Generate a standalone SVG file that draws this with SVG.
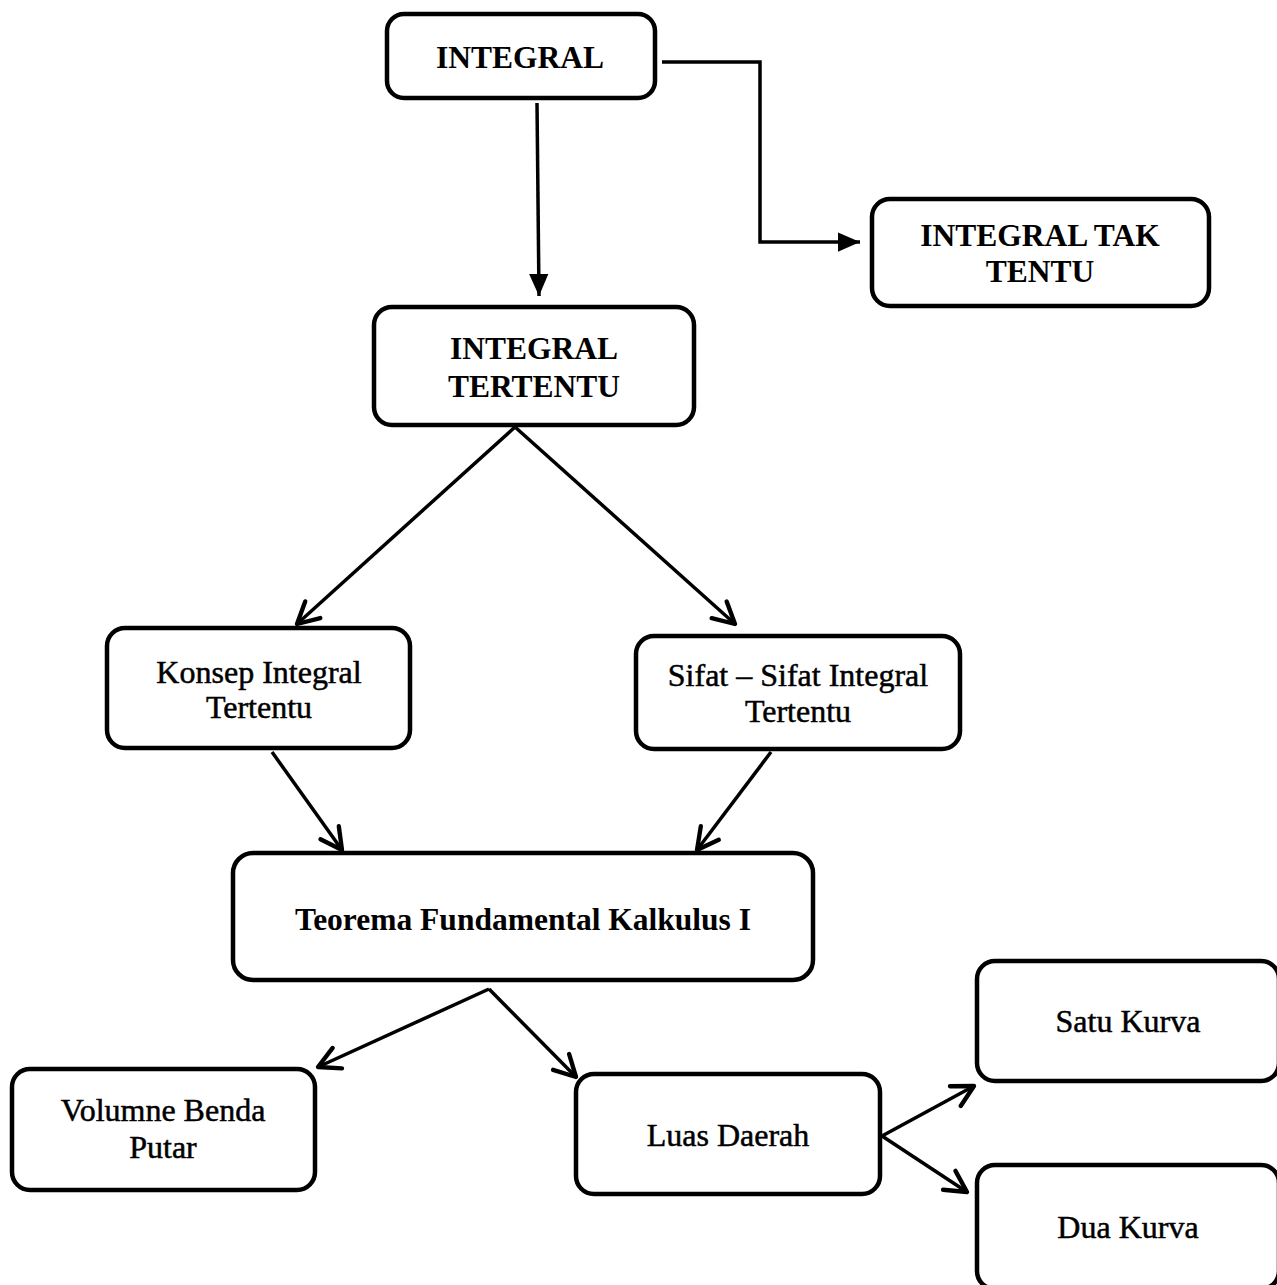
<svg xmlns="http://www.w3.org/2000/svg" width="1277" height="1285" viewBox="0 0 1277 1285">
<style>
.box{fill:#fff;stroke:#000;stroke-width:4.5}
.b{font-family:"Liberation Serif","Times New Roman",serif;font-weight:bold;font-size:31.5px;fill:#000;text-anchor:middle}
.r{font-family:"Liberation Serif","Times New Roman",serif;font-size:32px;fill:#000;stroke:#000;stroke-width:0.5;text-anchor:middle}
.c{fill:none;stroke:#000;stroke-width:3.5}
</style>
<defs>
<marker id="tri" markerUnits="userSpaceOnUse" markerWidth="22" markerHeight="22" viewBox="0 0 16 14" refX="16" refY="7" orient="auto">
<path d="M0,0 L16,7 L0,14 Z" fill="#000"/>
</marker>
<marker id="vee" markerUnits="userSpaceOnUse" markerWidth="30" markerHeight="30" viewBox="-20 -12 24 24" refX="0" refY="0" orient="auto">
<path d="M-17,-9 L0,0 L-17,9" fill="none" stroke="#000" stroke-width="3.5" stroke-linecap="round" stroke-linejoin="round"/>
</marker>
</defs>
<rect width="1277" height="1285" fill="#fff"/>
<g id="connectors">
<line class="c" x1="537" y1="103" x2="539" y2="296" marker-end="url(#tri)"/>
<polyline class="c" points="662,62 760,62 760,242 860,242" marker-end="url(#tri)"/>
<line class="c" x1="515" y1="427" x2="297" y2="624" marker-end="url(#vee)"/>
<line class="c" x1="515" y1="427" x2="735" y2="624" marker-end="url(#vee)"/>
<line class="c" x1="272" y1="752" x2="342" y2="850" marker-end="url(#vee)"/>
<line class="c" x1="771" y1="752" x2="697" y2="850" marker-end="url(#vee)"/>
<line class="c" x1="489" y1="989" x2="318" y2="1067" marker-end="url(#vee)"/>
<line class="c" x1="489" y1="989" x2="576" y2="1077" marker-end="url(#vee)"/>
<line class="c" x1="882" y1="1136" x2="974" y2="1086" marker-end="url(#vee)"/>
<line class="c" x1="882" y1="1136" x2="967" y2="1192" marker-end="url(#vee)"/>
</g>
<g id="n-integral"><rect class="box" x="387" y="14" width="268" height="84" rx="17"/><text class="b" x="520" y="68">INTEGRAL</text></g>
<g id="n-taktentu"><rect class="box" x="872" y="199" width="337" height="107" rx="18"/><text class="b" x="1040" y="246">INTEGRAL TAK</text><text class="b" x="1040" y="282">TENTU</text></g>
<g id="n-tertentu"><rect class="box" x="374" y="307" width="320" height="118" rx="18"/><text class="b" x="534" y="359">INTEGRAL</text><text class="b" x="534" y="397">TERTENTU</text></g>
<g id="n-konsep"><rect class="box" x="107" y="628" width="303" height="120" rx="18"/><text class="r" x="259" y="683">Konsep Integral</text><text class="r" x="259" y="718">Tertentu</text></g>
<g id="n-sifat"><rect class="box" x="636" y="636" width="324" height="113" rx="18"/><text class="r" x="798" y="686">Sifat – Sifat Integral</text><text class="r" x="798" y="722">Tertentu</text></g>
<g id="n-teorema"><rect class="box" x="233" y="853" width="580" height="127" rx="20"/><text class="b" x="523" y="930">Teorema Fundamental Kalkulus I</text></g>
<g id="n-volume"><rect class="box" x="12" y="1069" width="303" height="121" rx="18"/><text class="r" x="163" y="1121">Volumne Benda</text><text class="r" x="163" y="1158">Putar</text></g>
<g id="n-luas"><rect class="box" x="576" y="1074" width="304" height="120" rx="18"/><text class="r" x="728" y="1146">Luas Daerah</text></g>
<g id="n-satu"><rect class="box" x="977" y="961" width="302" height="120" rx="18"/><text class="r" x="1128" y="1032">Satu Kurva</text></g>
<g id="n-dua"><rect class="box" x="977" y="1165" width="302" height="124" rx="18"/><text class="r" x="1128" y="1238">Dua Kurva</text></g>
</svg>
